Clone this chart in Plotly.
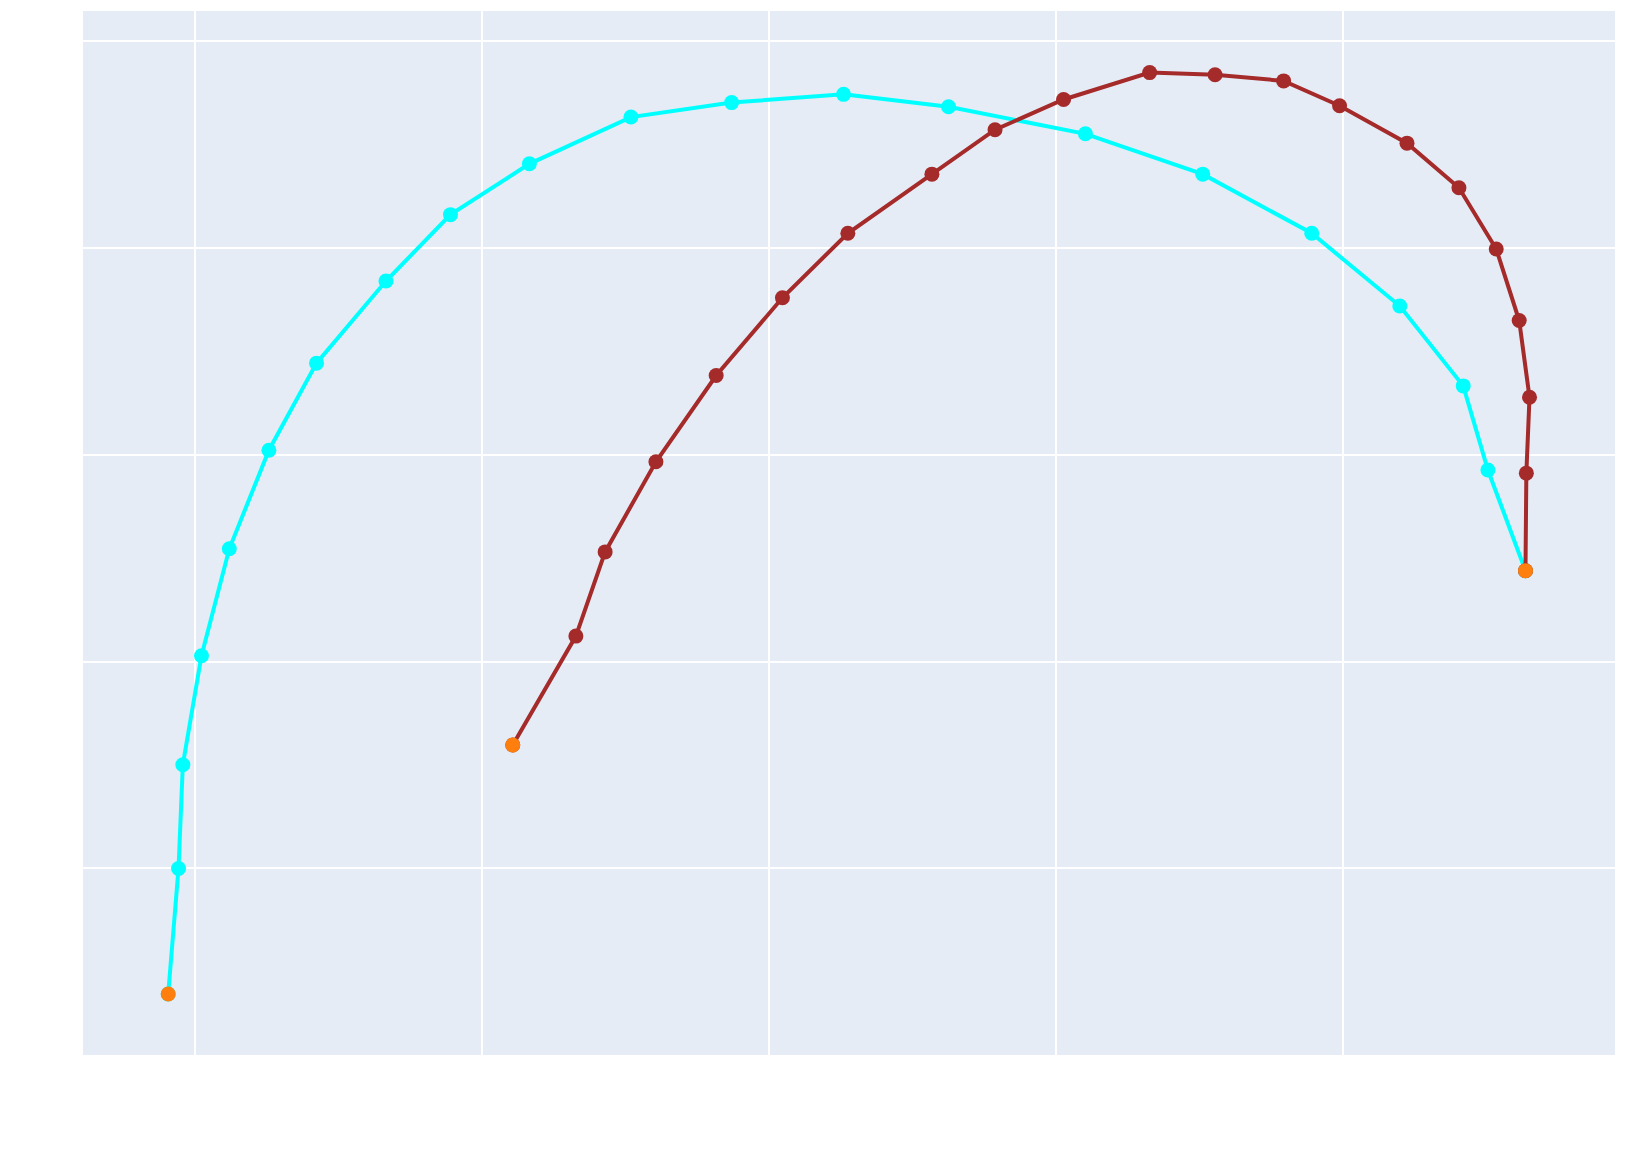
import plotly.graph_objects as go

# cyan path
cyan_x = [-0.094, -0.058, -0.043, 0.022, 0.119, 0.257, 0.423, 0.665, 0.890, 1.165, 1.519,
          1.870, 2.260, 2.626, 3.103, 3.512, 3.892, 4.199, 4.420, 4.506, 4.637]
cyan_y = [-0.607, 0.0, 0.502, 1.029, 1.546, 2.023, 2.444, 2.841, 3.162, 3.408, 3.634,
          3.704, 3.744, 3.684, 3.553, 3.358, 3.072, 2.720, 2.334, 1.927, 1.440]

# brown path
brown_x = [1.107, 1.327, 1.429, 1.606, 1.816, 2.047, 2.275, 2.568, 2.788, 3.027, 3.327,
           3.555, 3.794, 3.989, 4.224, 4.405, 4.535, 4.615, 4.651, 4.640, 4.637]
brown_y = [0.597, 1.124, 1.531, 1.967, 2.384, 2.760, 3.072, 3.358, 3.573, 3.719, 3.849,
           3.839, 3.809, 3.689, 3.508, 3.292, 2.996, 2.650, 2.279, 1.912, 1.440]

# start / end points
ends_x = [cyan_x[0], brown_x[0], cyan_x[-1]]
ends_y = [cyan_y[0], brown_y[0], cyan_y[-1]]

fig = go.Figure()
fig.add_trace(go.Scatter(
    x=cyan_x, y=cyan_y,
    mode="lines+markers",
    line={"color": "cyan", "width": 4},
    marker={"size": 15, "color": "cyan"},
))
fig.add_trace(go.Scatter(
    x=brown_x, y=brown_y,
    mode="lines+markers",
    line={"color": "brown", "width": 4},
    marker={"size": 15, "color": "brown"},
))
fig.add_trace(go.Scatter(
    x=ends_x, y=ends_y,
    mode="markers",
    marker={"size": 15, "color": "#ff7f0e"},
))

# page body adds 8px offset, so size and margins are set to fit the window
fig.update_layout(
    width=1611, height=1146,
    showlegend=False,
    margin={"l": 75, "r": 4, "t": 3, "b": 99},
    plot_bgcolor="#e5ecf6",
    paper_bgcolor="white",
    xaxis={"range": [-0.391, 4.949], "dtick": 1, "tick0": 0, "showticklabels": False,
           "gridcolor": "white", "gridwidth": 2, "zeroline": False},
    yaxis={"range": [-0.902, 4.147], "dtick": 1, "tick0": 0, "showticklabels": False,
           "gridcolor": "white", "gridwidth": 2, "zeroline": False},
)

fig.write_html("out.html")
